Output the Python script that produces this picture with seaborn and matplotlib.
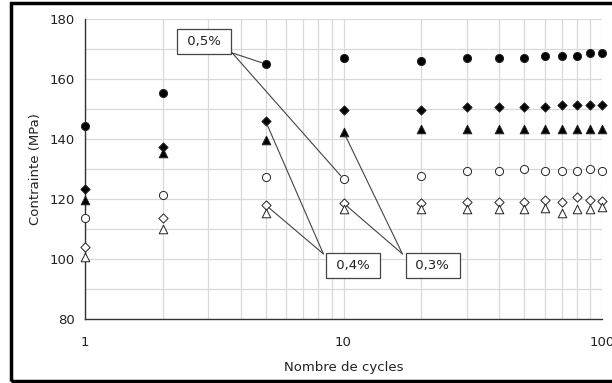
import matplotlib
matplotlib.use("Agg")
from matplotlib import pyplot as plt
from matplotlib.patches import Rectangle
from matplotlib.ticker import FixedLocator, NullFormatter, FixedFormatter
import seaborn as sns
import pandas as pd

# nombre de cycles
cycles = [1, 2, 5, 10, 20, 30, 40, 50, 60, 70, 80, 90, 100]

# contraintes (MPa)
max_05 = [144.3, 155.4, 165.0, 166.9, 166.0, 166.9, 166.9, 166.9, 167.7, 167.7, 167.7, 168.6, 168.6]
max_04 = [123.4, 137.3, 145.9, 149.7, 149.7, 150.6, 150.6, 150.6, 150.6, 151.3, 151.3, 151.3, 151.3]
max_03 = [119.8, 135.2, 139.7, 142.4, 143.2, 143.2, 143.2, 143.2, 143.2, 143.2, 143.2, 143.2, 143.2]
min_05 = [113.8, 121.4, 127.4, 126.7, 127.7, 129.3, 129.3, 129.9, 129.3, 129.3, 129.3, 129.9, 129.3]
min_04 = [104.1, 113.8, 118.0, 118.6, 118.8, 119.1, 118.9, 118.9, 119.7, 118.9, 120.6, 119.7, 119.3]
min_03 = [100.6, 110.0, 115.2, 116.6, 116.6, 116.6, 116.6, 116.6, 116.9, 115.4, 116.6, 116.6, 117.4]

series = {
    "max 0,5%": max_05, "max 0,4%": max_04, "max 0,3%": max_03,
    "min 0,5%": min_05, "min 0,4%": min_04, "min 0,3%": min_03,
}
rows = []
for name, vals in series.items():
    for c, v in zip(cycles, vals):
        rows.append({"serie": name, "cycles": c, "contrainte": v})
df = pd.DataFrame(rows)

styles = {
    "max 0,5%": dict(marker="o", facecolor="black", s=34),
    "max 0,4%": dict(marker="D", facecolor="black", s=22),
    "max 0,3%": dict(marker="^", facecolor="black", s=38),
    "min 0,5%": dict(marker="o", facecolor="white", s=34),
    "min 0,4%": dict(marker="D", facecolor="white", s=22),
    "min 0,3%": dict(marker="^", facecolor="white", s=38),
}

sns.set_style("white")
plt.rcParams['font.family'] = ['DejaVu Sans']
fig = plt.figure(figsize=(6.12, 3.83), dpi=100)
ax = fig.add_axes([85 / 612, 1 - 319 / 383, (602 - 85) / 612, 300 / 383])

for name, st in styles.items():
    sub = df[df["serie"] == name]
    sns.scatterplot(data=sub, x="cycles", y="contrainte", ax=ax,
                    marker=st["marker"], s=st["s"], color=st["facecolor"],
                    edgecolor="#222222", linewidth=0.7, zorder=3,
                    legend=False, clip_on=False)

ax.set_xscale("log")
ax.set_xlim(1, 100)
ax.set_ylim(80, 180)

ax.xaxis.set_major_locator(FixedLocator([1, 10, 100]))
ax.xaxis.set_major_formatter(FixedFormatter(["1", "10", "100"]))
ax.xaxis.set_minor_locator(FixedLocator([2, 3, 4, 5, 6, 7, 8, 9, 20, 30, 40, 50, 60, 70, 80, 90]))
ax.xaxis.set_minor_formatter(NullFormatter())
ax.set_yticks([80, 100, 120, 140, 160, 180])
ax.set_yticks([90, 110, 130, 150, 170], minor=True)

ax.grid(True, which="both", color="#d9d9d9", linewidth=0.9)
ax.set_axisbelow(True)
for s in ["top", "right"]:
    ax.spines[s].set_visible(False)
for s in ["left", "bottom"]:
    ax.spines[s].set_color("#333333")
    ax.spines[s].set_linewidth(1.0)
ax.tick_params(which="both", direction="inout", length=6, width=0.9,
               color="#333333", labelsize=9.5, labelcolor="#222222")
ax.tick_params(axis="x", which="both", pad=9)
ax.tick_params(axis="y", pad=4)

ax.set_xlabel("Nombre de cycles", fontsize=9.5, color="#222222", labelpad=9)
ax.set_ylabel("Contrainte (MPa)", fontsize=9.5, color="#222222", labelpad=6)

# annotations: (texte, centre boite, coin d'attache, points vises)
labels = [
    ("0,5%", (2.88, 172.5), (3.71, 168.7), [("max 0,5%", 5), ("min 0,5%", 10)]),
    ("0,4%", (10.9, 97.7), (8.36, 101.7), [("max 0,4%", 5), ("min 0,4%", 5)]),
    ("0,3%", (22.1, 97.7), (16.9, 101.7), [("max 0,3%", 10), ("min 0,4%", 10)]),
]
for txt, center, corner, targets in labels:
    for name, c in targets:
        v = series[name][cycles.index(c)]
        ax.annotate("", xy=(c, v), xytext=corner,
                    arrowprops=dict(arrowstyle="-", color="#444444", lw=0.8,
                                    shrinkA=0, shrinkB=3), zorder=4)
    ax.text(center[0], center[1], " " + txt + " ", ha="center", va="center",
            fontsize=9.5, color="#222222", zorder=5,
            bbox=dict(boxstyle="square,pad=0.45", facecolor="white",
                      edgecolor="#444444", linewidth=0.9))

# cadre exterieur
fig.patches.append(Rectangle((11 / 612, 2 / 383), 1.2, 378 / 383,
                             transform=fig.transFigure, fill=False,
                             edgecolor="black", linewidth=2.5))

plt.savefig("out.png", dpi=100)
